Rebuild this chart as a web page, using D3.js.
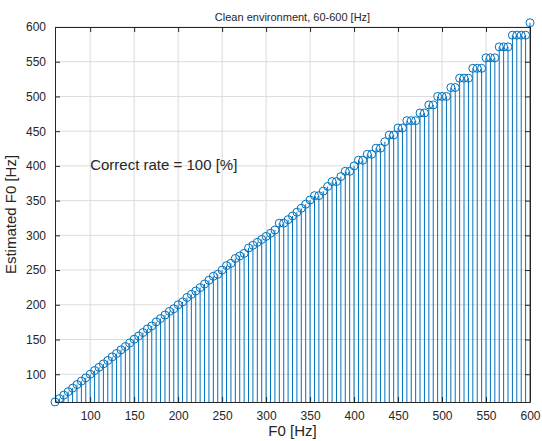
<!DOCTYPE html>
<meta charset="utf-8">
<script src="https://d3js.org/d3.v7.min.js"></script>
<style>
  body { margin: 0; background: #fff; }
  text { font-family: "Liberation Sans", Arial, sans-serif; fill: #262626; }
</style>
<div id="my_dataviz"></div>
<script>

// true F0 (x) and estimated F0 (y), read from the stems
var f0 = [60,65,70,75,80,85,90,95,100,105,110,115,120,125,130,135,140,145,150,155,
          160,165,170,175,180,185,190,195,200,205,210,215,220,225,230,235,240,245,250,255,
          260,265,270,275,280,285,290,295,300,305,310,315,320,325,330,335,340,345,350,355,
          360,365,370,375,380,385,390,395,400,405,410,415,420,425,430,435,440,445,450,455,
          460,465,470,475,480,485,490,495,500,505,510,515,520,525,530,535,540,545,550,555,
          560,565,570,575,580,585,590,595,600];
var estF0 = [60.1,64.9,69.9,74.9,80,85.1,90.1,94.8,100,105.3,109.9,114.9,119.8,125,129.9,135.1,139.9,144.9,150.4,155.0,
             160,165.3,169.5,175.4,180.2,185.2,190.5,194.2,200,204.1,210.5,215.1,219.8,224.7,229.9,235.3,241.0,243.9,250,256.4,
             259.7,266.7,270.3,274.0,281.7,285.7,289.9,294.1,298.5,303.0,307.7,317.5,317.5,322.6,327.9,333.3,339.0,344.8,350.9,357.1,
             357.1,363.6,370.4,377.4,377.4,384.6,392.2,392.2,400,408.2,408.2,416.7,416.7,425.5,425.5,434.8,444.4,444.4,454.5,454.5,
             465.1,465.1,465.1,476.2,476.2,487.8,487.8,500,500,500,512.8,512.8,526.3,526.3,526.3,540.5,540.5,540.5,555.6,555.6,
             555.6,571.4,571.4,571.4,588.2,588.2,588.2,588.2,606.1];
var xTicks = [100,150,200,250,300,350,400,450,500,550,600];
var yTicks = [100,150,200,250,300,350,400,450,500,550,600];

var W = 542, H = 441;
var margin = {top: 27, right: 12, bottom: 39, left: 55},
    width = W - margin.left - margin.right,
    height = H - margin.top - margin.bottom;

var svg = d3.select("#my_dataviz")
  .append("svg")
    .attr("width", W)
    .attr("height", H)
  .append("g")
    .attr("transform", "translate(" + margin.left + "," + margin.top + ")");

var x = d3.scaleLinear().domain([60, 600]).range([0, width]);
var y = d3.scaleLinear().domain([60, 600]).range([height, 0]);

// grid
svg.selectAll(".gx").data(xTicks).enter().append("line")
  .attr("x1", d => x(d)).attr("x2", d => x(d))
  .attr("y1", 0).attr("y2", height)
  .style("stroke", "#dcdcdc").style("stroke-width", 1);
svg.selectAll(".gy").data(yTicks).enter().append("line")
  .attr("x1", 0).attr("x2", width)
  .attr("y1", d => y(d)).attr("y2", d => y(d))
  .style("stroke", "#dcdcdc").style("stroke-width", 1);

// stems
svg.selectAll(".stem").data(f0).enter().append("line")
  .attr("x1", d => x(d)).attr("x2", d => x(d))
  .attr("y1", height)
  .attr("y2", (d, i) => y(estF0[i]))
  .style("stroke", "#0072BD").style("stroke-width", 1);

// markers
svg.selectAll(".mk").data(f0).enter().append("circle")
  .attr("cx", d => x(d))
  .attr("cy", (d, i) => y(estF0[i]))
  .attr("r", 4)
  .style("fill", "none").style("stroke", "#0072BD").style("stroke-width", 1);

// axes, ticks inward on all four sides
function styleAxis(g) {
  g.selectAll("path").style("stroke", "#262626");
  g.selectAll("line").style("stroke", "#262626");
  g.selectAll("text").style("font-size", "12px").style("fill", "#262626")
    .style("font-family", "Liberation Sans, Arial, sans-serif");
}
svg.append("g").attr("transform", "translate(0," + height + ")")
  .call(d3.axisBottom(x).tickValues(xTicks).tickSizeInner(-5).tickSizeOuter(0).tickPadding(9))
  .call(styleAxis);
svg.append("g")
  .call(d3.axisLeft(y).tickValues(yTicks).tickSizeInner(-5).tickSizeOuter(0).tickPadding(9))
  .call(styleAxis);
svg.append("g")
  .call(d3.axisTop(x).tickValues(xTicks).tickSizeInner(-5).tickSizeOuter(0).tickFormat(""))
  .call(styleAxis);
svg.append("g").attr("transform", "translate(" + width + ",0)")
  .call(d3.axisRight(y).tickValues(yTicks).tickSizeInner(-5).tickSizeOuter(0).tickFormat(""))
  .call(styleAxis);

// title and labels
svg.append("text")
  .attr("x", width / 2).attr("y", -6)
  .style("text-anchor", "middle").style("font-size", "11px")
  .text("Clean environment, 60-600 [Hz]");

svg.append("text")
  .attr("x", width / 2).attr("y", height + 34)
  .style("text-anchor", "middle").style("font-size", "15px")
  .text("F0 [Hz]");

svg.append("text")
  .attr("transform", "rotate(-90)")
  .attr("x", -height / 2).attr("y", -39)
  .style("text-anchor", "middle").style("font-size", "15px")
  .text("Estimated F0 [Hz]");

svg.append("text")
  .attr("x", x(100)).attr("y", y(400))
  .attr("dominant-baseline", "middle")
  .style("font-size", "15px")
  .text("Correct rate = 100 [%]");

</script>
